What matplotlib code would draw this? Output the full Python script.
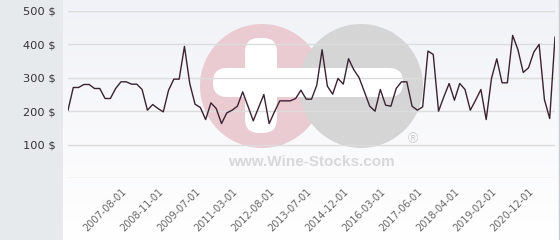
import numpy as np
import matplotlib
matplotlib.use('Agg')
import matplotlib.pyplot as plt
from matplotlib.patches import Circle, FancyBboxPatch, Rectangle
from matplotlib.transforms import ScaledTranslation

# Price history (USD), one value per category on the x axis
prices = [203, 271, 271, 280, 280, 268, 268, 238, 238, 268,
          288, 288, 281, 281, 265, 203, 220, 208, 198, 263,
          296, 296, 394, 283, 221, 211, 175, 225, 208, 163,
          195, 203, 215, 258, 215, 171, 211, 250, 163, 198,
          231, 231, 231, 238, 263, 236, 236, 278, 384, 275,
          251, 298, 281, 357, 324, 300, 258, 215, 200, 265,
          218, 215, 268, 288, 288, 215, 203, 213, 380, 370,
          200, 243, 283, 233, 283, 265, 203, 233, 265, 175,
          298, 357, 285, 285, 427, 384, 316, 330, 377, 400,
          235, 178, 422]

# tick labels shown every 7th category starting at index 10
tick_labels = ['2007-08-01', '2008-11-01', '2009-07-01', '2011-03-01',
               '2012-08-01', '2013-07-01', '2014-12-01', '2016-03-01',
               '2017-06-01', '2018-04-01', '2019-02-01', '2020-12-01']
first_tick = 10
tick_step = 7

y_ticks = [100, 200, 300, 400, 500]

W, H = 560, 240
fig = plt.figure(figsize=(W / 100, H / 100), dpi=100)

# background layer in pixel coordinates
bg = fig.add_axes([0, 0, 1, 1], zorder=0)
bg.set_xlim(0, W)
bg.set_ylim(H, 0)
bg.axis('off')

grad = np.linspace(0, 1, 100).reshape(-1, 1)
bg.imshow(grad, cmap=matplotlib.colors.LinearSegmentedColormap.from_list(
    'bgfade', ['#f1f2f7', '#ffffff']), extent=[63, W, H, 0], aspect='auto')
bg.add_patch(Rectangle((0, 0), 63, H, color='#e6eaed', lw=0))
bg.plot([559, 559], [0, H], color='#c8ccd0', lw=1)

# watermark
bg.add_patch(Circle((262, 86), 62, color='#eacbd1', lw=0))
bg.add_patch(Circle((361, 86), 62, color='#d5d5d5', lw=0))
bg.add_patch(FancyBboxPatch((245, 38), 32, 95, boxstyle='round,pad=0,rounding_size=14',
                            color='white', lw=0))
bg.add_patch(FancyBboxPatch((213, 68), 190, 29, boxstyle='round,pad=0,rounding_size=14',
                            color='white', lw=0))
bg.text(311, 162, 'www.Wine-Stocks.com', ha='center', va='center', fontsize=11,
        fontweight='bold', family='Liberation Sans', color='#d8d8d8')
bg.text(413, 139, '®', ha='center', va='center', fontsize=10,
        family='Liberation Sans', color='#cfcfcf')

# chart
ax = fig.add_axes([68 / W, 1 - 178 / H, (555 - 68) / W, (178 - 11) / H], zorder=1)
ax.patch.set_alpha(0)
x = np.arange(len(prices))
ax.plot(x, prices, color='#3b2232', lw=1, zorder=3)

ax.set_xlim(0, len(prices) - 1)
ax.set_ylim(0, 500)
ax.set_yticks([0] + y_ticks)
ax.set_yticklabels([''] + [f'{v} $' for v in y_ticks], fontsize=8.2, color='#333333')
ax.grid(axis='y', color='#dcdcdc', lw=1)
ax.set_axisbelow(True)

ax.set_xticks([first_tick + tick_step * i for i in range(len(tick_labels))])
ax.set_xticklabels(tick_labels, rotation=45, ha='right', rotation_mode='anchor',
                   fontsize=7, color='#666666')
shift = ScaledTranslation(5 / 100, 0, fig.dpi_scale_trans)
for lbl in ax.get_xticklabels():
    lbl.set_transform(lbl.get_transform() + shift)
ax.tick_params(axis='both', length=0)
ax.tick_params(axis='y', pad=9)
ax.tick_params(axis='x', pad=6)
for s in ax.spines.values():
    s.set_visible(False)

fig.savefig('out.png', dpi=100)
